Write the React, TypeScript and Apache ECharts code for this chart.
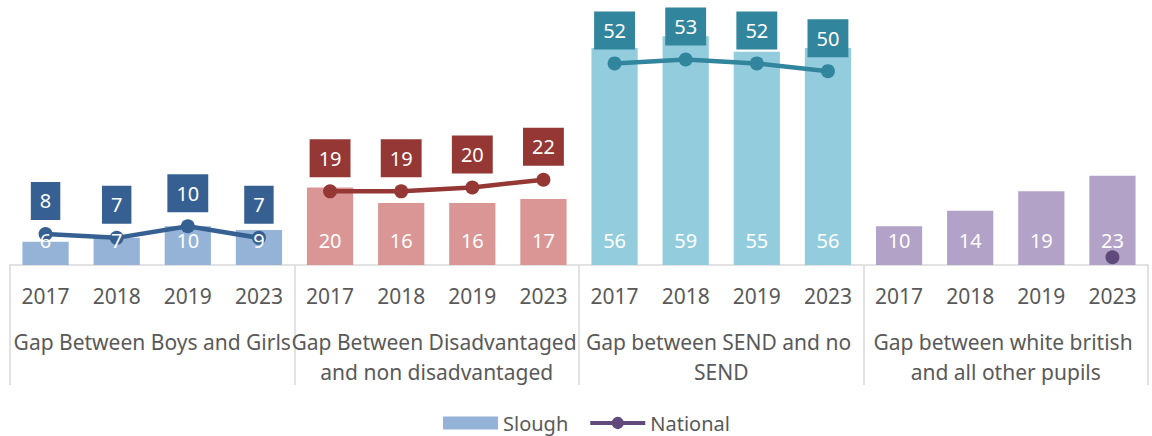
import React, { useEffect, useRef } from "react";
import * as echarts from "echarts";

const years = ["2017", "2018", "2019", "2023"];
const groups = [
  "Gap Between Boys and Girls",
  "Gap Between Disadvantaged and non disadvantaged",
  "Gap between SEND and no SEND",
  "Gap between white british and all other pupils",
];
const sloughBoysGirls = [6, 7, 10, 9];
const sloughDisadvantaged = [20, 16, 16, 17];
const sloughSend = [56, 59, 55, 56];
const sloughWhiteBritish = [10, 14, 19, 23];
const nationalBoysGirls = [8, 7, 10, 7];
const nationalDisadvantaged = [19, 19, 20, 22];
const nationalSend = [52, 53, 52, 50];
const nationalWhiteBritish: (number | null)[] = [null, null, null, 2];

const barColors = ["#95b3d7", "#da9694", "#93cddd", "#b3a2c7"];
const lineColors = ["#376092", "#953735", "#31859c", "#604a7b"];
const showLineLabels = [true, true, true, false];

const FONT = "Noto Sans";
const NATIONAL_ICON =
  "path://M0,4.5L58,4.5L58,8.5L0,8.5Z M22.5,6.5A6.5,6.5 0 1,1 35.5,6.5A6.5,6.5 0 1,1 22.5,6.5Z";

export default function App() {
  const ref = useRef<HTMLDivElement>(null);
  useEffect(() => {
    document.body.style.margin = "0";
    if (!ref.current) return;
    const chart = echarts.init(ref.current, null, { renderer: "svg" });
    const sloughGroups = [sloughBoysGirls, sloughDisadvantaged, sloughSend, sloughWhiteBritish];
    const nationalGroups = [nationalBoysGirls, nationalDisadvantaged, nationalSend, nationalWhiteBritish];
    const categories = groups.flatMap(() => years);
    const barData: any[] = [];
    const labelData: number[] = [];
    sloughGroups.forEach((arr, g) =>
      arr.forEach((v) => {
        barData.push({ value: v, itemStyle: { color: barColors[g] } });
        labelData.push(v);
      })
    );
    const lineSeries = nationalGroups.map((arr, g) => {
      const data: (number | null)[] = new Array(categories.length).fill(null);
      arr.forEach((v, i) => (data[g * years.length + i] = v));
      return {
        name: "National",
        type: "line",
        data,
        connectNulls: false,
        symbol: "circle",
        symbolSize: 14,
        lineStyle: { color: lineColors[g], width: 4.5 },
        itemStyle: { color: lineColors[g] },
        z: 3,
        label: {
          show: showLineLabels[g],
          position: "top",
          distance: 7,
          color: "#ffffff",
          backgroundColor: lineColors[g],
          padding: [9, 9],
          fontSize: 20,
          lineHeight: 20,
          fontFamily: FONT,
        },
      };
    });
    chart.setOption({
      animation: false,
      textStyle: { fontFamily: FONT },
      grid: { left: 10, right: 4, top: 13, bottom: 171, containLabel: false, outerBoundsMode: "none" },
      legend: {
        bottom: -2,
        left: 438,
        itemWidth: 55,
        itemHeight: 13,
        itemGap: 22,
        textStyle: { fontSize: 20, color: "#595959", fontFamily: FONT },
        data: [
          { name: "Slough", icon: "rect", itemStyle: { color: barColors[0] } },
          { name: "National", icon: NATIONAL_ICON, itemStyle: { color: lineColors[3] } },
        ],
      },
      xAxis: [
        {
          type: "category",
          data: categories,
          position: "bottom",
          axisLine: { show: true, lineStyle: { color: "#d9d9d9", width: 1.5 } },
          axisTick: { show: false },
          axisLabel: { interval: 0, margin: 19, fontSize: 21, lineHeight: 24, color: "#595959", fontFamily: FONT },
        },
        {
          type: "category",
          data: groups,
          position: "bottom",
          axisLine: { show: false },
          axisTick: { show: true, length: 120, lineStyle: { color: "#d9d9d9", width: 1.5 } },
          axisLabel: {
            interval: 0,
            margin: 62,
            fontSize: 21,
            lineHeight: 30,
            width: 293,
            overflow: "break",
            color: "#595959",
            fontFamily: FONT,
          },
        },
      ],
      yAxis: { type: "value", min: 0, max: 65, show: false, splitLine: { show: false } },
      series: [
        {
          name: "Slough",
          type: "bar",
          data: barData,
          barWidth: "65%",
          itemStyle: { color: barColors[0] },
          z: 2,
        },
        ...lineSeries,
        {
          name: "Slough values",
          type: "bar",
          data: labelData,
          barWidth: "65%",
          barGap: "-100%",
          itemStyle: { color: "rgba(0,0,0,0)" },
          z: 6,
          silent: true,
          label: {
            show: true,
            position: "insideBottom",
            distance: 15,
            color: "#ffffff",
            fontSize: 20,
            lineHeight: 20,
            fontFamily: FONT,
          },
        },
      ],
    });
    return () => chart.dispose();
  }, []);
  return <div ref={ref} style={{ width: 1152, height: 436 }} />;
}
